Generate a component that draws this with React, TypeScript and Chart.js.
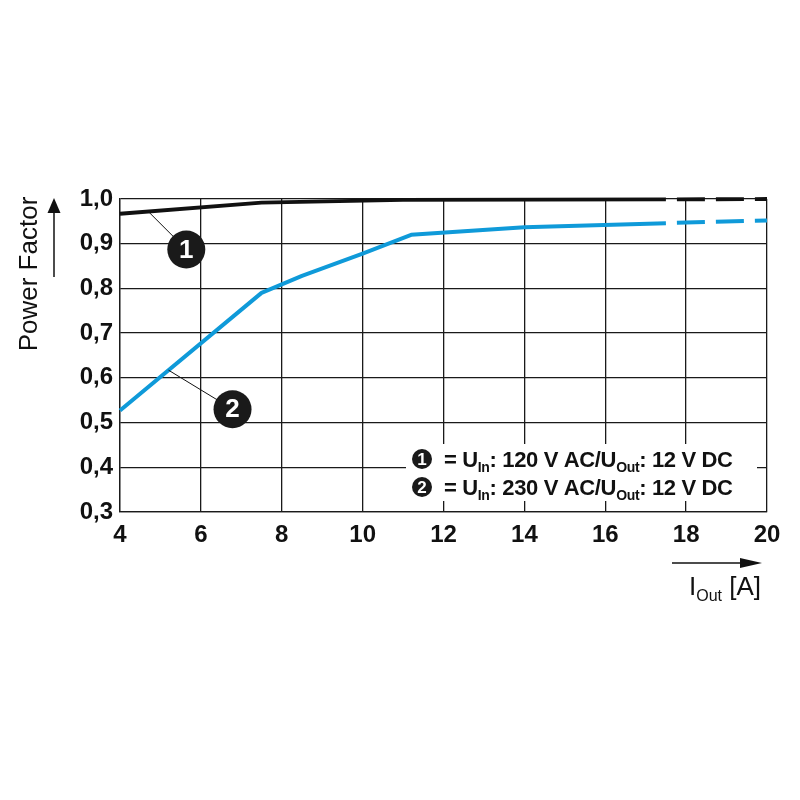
import { useEffect, useRef } from "react";
import { Chart, registerables } from "chart.js";

Chart.register(...registerables);

// ---- data ----
const xTickValues = [4, 6, 8, 10, 12, 14, 16, 18, 20];
const yTickValues = [0.3, 0.4, 0.5, 0.6, 0.7, 0.8, 0.9, 1.0];

const iOut120 = [4, 7.5, 11, 17.5];
const pf120 = [0.967, 0.992, 0.998, 0.999];
const iOut120Ext = [17.5, 20];
const pf120Ext = [0.999, 1.0];

const iOut230 = [4, 7.5, 8.5, 10, 11.2, 14, 17.5];
const pf230 = [0.527, 0.79, 0.828, 0.878, 0.92, 0.937, 0.946];
const iOut230Ext = [17.5, 20];
const pf230Ext = [0.946, 0.952];

const legendVoltages = ["120 V AC", "230 V AC"];
const legendOutput = "12 V DC";
const yTitle = "Power Factor";

const BLUE = "#0f9ad9";
const BLACK = "#111111";
const FONT = "'Liberation Sans', Arial, Helvetica, sans-serif";

const pts = (xs: number[], ys: number[]) => xs.map((x, i) => ({ x, y: ys[i] }));

function interp(xs: number[], ys: number[], x: number) {
  for (let i = 0; i < xs.length - 1; i++) {
    if (x >= xs[i] && x <= xs[i + 1]) {
      const t = (x - xs[i]) / (xs[i + 1] - xs[i]);
      return ys[i] + t * (ys[i + 1] - ys[i]);
    }
  }
  return ys[ys.length - 1];
}

function drawRichText(
  ctx: CanvasRenderingContext2D,
  parts: { t: string; sub?: boolean }[],
  x: number,
  y: number,
  size: number,
  weight: string,
  color: string,
  spacing = 0
) {
  let cx = x;
  ctx.fillStyle = color;
  ctx.textBaseline = "alphabetic";
  ctx.textAlign = "left";
  (ctx as any).letterSpacing = `${spacing}px`;
  for (const p of parts) {
    const s = p.sub ? Math.round(size * 0.62) : size;
    ctx.font = `${weight} ${s}px ${FONT}`;
    ctx.fillText(p.t, cx, p.sub ? y + size * 0.22 : y);
    cx += ctx.measureText(p.t).width;
  }
  (ctx as any).letterSpacing = "0px";
  return cx;
}

function numberCircle(ctx: CanvasRenderingContext2D, cx: number, cy: number, r: number, n: string, fs: number) {
  ctx.beginPath();
  ctx.arc(cx, cy, r, 0, Math.PI * 2);
  ctx.fillStyle = "#1a1a1a";
  ctx.fill();
  ctx.fillStyle = "#ffffff";
  ctx.font = `bold ${fs}px ${FONT}`;
  ctx.textAlign = "center";
  ctx.textBaseline = "middle";
  ctx.fillText(n, cx, cy + 1);
}

function arrow(ctx: CanvasRenderingContext2D, x1: number, y1: number, x2: number, y2: number, headLen: number, headW: number) {
  const ang = Math.atan2(y2 - y1, x2 - x1);
  const bx = x2 - headLen * Math.cos(ang);
  const by = y2 - headLen * Math.sin(ang);
  ctx.strokeStyle = BLACK;
  ctx.lineWidth = 1.5;
  ctx.beginPath();
  ctx.moveTo(x1, y1);
  ctx.lineTo(bx, by);
  ctx.stroke();
  const px = -Math.sin(ang) * headW / 2;
  const py = Math.cos(ang) * headW / 2;
  ctx.fillStyle = BLACK;
  ctx.beginPath();
  ctx.moveTo(x2, y2);
  ctx.lineTo(bx + px, by + py);
  ctx.lineTo(bx - px, by - py);
  ctx.closePath();
  ctx.fill();
}

const overlayPlugin = {
  id: "overlay",
  afterDraw(chart: any) {
    const ctx: CanvasRenderingContext2D = chart.ctx;
    const xs = chart.scales.x;
    const ys = chart.scales.y;
    const area = chart.chartArea;
    ctx.save();

    // callouts
    const a1x = xs.getPixelForValue(4.7);
    const a1y = ys.getPixelForValue(interp(iOut120, pf120, 4.7));
    const c1x = a1x + 38, c1y = a1y + 38;
    ctx.strokeStyle = BLACK;
    ctx.lineWidth = 1;
    ctx.beginPath();
    ctx.moveTo(a1x, a1y);
    ctx.lineTo(c1x, c1y);
    ctx.stroke();
    numberCircle(ctx, c1x, c1y, 19, "1", 26);

    const a2x = xs.getPixelForValue(5.2);
    const a2y = ys.getPixelForValue(interp(iOut230, pf230, 5.2));
    const c2x = a2x + 64, c2y = a2y + 39;
    ctx.beginPath();
    ctx.moveTo(a2x, a2y);
    ctx.lineTo(c2x, c2y);
    ctx.stroke();
    numberCircle(ctx, c2x, c2y, 19, "2", 26);

    // legend box
    const bx = 406, by = 444, bw = 351, bh = 57;
    ctx.fillStyle = "#ffffff";
    ctx.fillRect(bx, by, bw, bh);
    legendVoltages.forEach((v, i) => {
      const cy = 459 + i * 28;
      numberCircle(ctx, 422, cy, 10, String(i + 1), 17);
      drawRichText(
        ctx,
        [
          { t: "= U" },
          { t: "In", sub: true },
          { t: `: ${v}/U` },
          { t: "Out", sub: true },
          { t: `: ${legendOutput}` },
        ],
        444,
        cy + 8,
        22,
        "bold",
        BLACK,
        -0.35
      );
    });

    // y axis title
    ctx.save();
    ctx.translate(37, 274);
    ctx.rotate(-Math.PI / 2);
    ctx.fillStyle = BLACK;
    ctx.font = `normal 26px ${FONT}`;
    ctx.textAlign = "center";
    ctx.textBaseline = "alphabetic";
    ctx.fillText(yTitle, 0, 0);
    ctx.restore();
    arrow(ctx, 54, 277, 54, area.top - 1, 15, 13);

    // x axis title
    arrow(ctx, 672, 563, 762, 563, 22, 10);
    drawRichText(ctx, [{ t: "I" }, { t: "Out", sub: true }, { t: " [A]" }], 689, 595, 26, "normal", BLACK);

    ctx.restore();
  },
};

export default function App() {
  const ref = useRef<HTMLCanvasElement | null>(null);
  useEffect(() => {
    if (!ref.current) return;
    const chart = new Chart(ref.current, {
      type: "line",
      data: {
        datasets: [
          {
            data: pts(iOut120, pf120),
            borderColor: BLACK,
            borderWidth: 3.8,
            pointRadius: 0,
            clip: false as any,
          },
          {
            data: pts(iOut120Ext, pf120Ext),
            borderColor: BLACK,
            borderWidth: 3.8,
            pointRadius: 0,
            borderDash: [28, 11],
            borderDashOffset: 28,
            clip: false as any,
          },
          {
            data: pts(iOut230, pf230),
            borderColor: BLUE,
            borderWidth: 4,
            pointRadius: 0,
            clip: false as any,
          },
          {
            data: pts(iOut230Ext, pf230Ext),
            borderColor: BLUE,
            borderWidth: 4,
            pointRadius: 0,
            borderDash: [28, 11],
            borderDashOffset: 28,
            clip: false as any,
          },
        ],
      },
      options: {
        animation: false,
        responsive: false,
        maintainAspectRatio: false,
        layout: { padding: { left: 0, top: 199, right: 33, bottom: 0 } },
        plugins: { legend: { display: false }, tooltip: { enabled: false } },
        elements: { line: { tension: 0, borderCapStyle: "butt", borderJoinStyle: "round" } },
        scales: {
          x: {
            type: "linear",
            min: 4,
            max: 20,
            afterBuildTicks: (s: any) => {
              s.ticks = xTickValues.map((v) => ({ value: v }));
            },
            afterFit: (s: any) => {
              s.height = 288;
            },
            grid: { color: "#1a1a1a", lineWidth: 1.3, drawTicks: false },
            border: { color: "#1a1a1a", width: 1.3 },
            ticks: {
              padding: 9,
              color: BLACK,
              font: { family: FONT, size: 24, weight: "bold" },
              maxRotation: 0,
              callback: (v: any) => String(v),
            },
          },
          y: {
            type: "linear",
            min: 0.3,
            max: 1.0,
            afterBuildTicks: (s: any) => {
              s.ticks = yTickValues.map((v) => ({ value: v }));
            },
            afterFit: (s: any) => {
              s.width = 120;
            },
            grid: { color: "#1a1a1a", lineWidth: 1.3, drawTicks: false },
            border: { color: "#1a1a1a", width: 1.3 },
            ticks: {
              padding: 7,
              color: BLACK,
              font: { family: FONT, size: 24, weight: "bold" },
              callback: (v: any) => Number(v).toFixed(1).replace(".", ","),
            },
          },
        },
      } as any,
      plugins: [overlayPlugin],
    });
    return () => chart.destroy();
  }, []);
  return (
    <div style={{ position: "absolute", left: 0, top: 0, width: 800, height: 800, background: "#fff" }}>
      <canvas ref={ref} width={800} height={800} style={{ display: "block" }} />
    </div>
  );
}
